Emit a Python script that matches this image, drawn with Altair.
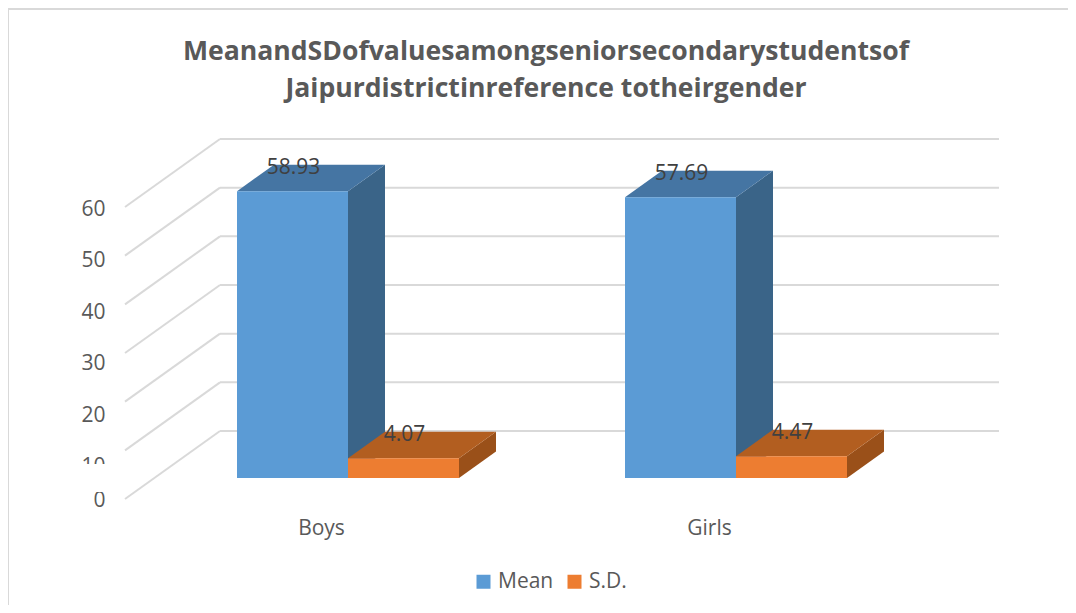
import altair as alt
import pandas as pd

title_lines = ["MeanandSDofvaluesamongseniorsecondarystudentsof", "Jaipurdistrictinreference totheirgender"]
categories = ["Boys", "Girls"]
series = ["Mean", "S.D."]
mean_values = [58.93, 57.69]
sd_values = [4.07, 4.47]
gridline_values = [0, 10, 20, 30, 40, 50, 60]
axis_values = [0, 10, 20, 30, 40, 50, 60]

W, H = 1060, 597
PX = 4.867                 # pixels per value unit
Y0 = 491                   # plot-pixel of value 0 on the front plane of the floor
XDOM = [0, W]
YDOM = [-(H - Y0) / PX, Y0 / PX]
xs = alt.Scale(domain=XDOM, range=[0, W], nice=False, zero=False)
ys = alt.Scale(domain=YDOM, range=[H, 0], nice=False, zero=False)

BASE = (499 - 478) / PX    # floor height of the bars
DEPTH_X, DEPTH_Y = 37, 26.5 / PX
WALL_Y = (499 - 431) / PX
GRID_L, GRID_BACK, GRID_R = 117, 212, 991
BAR_W = 111
CAT_LEFT = [229, 617]
CAT_CENTER = [313, 701]
LABEL_COLOR = "#595959"
FONT = "Open Sans"

front, side, top, labels = [], [], [], []
for c, left, m, s in zip(categories, CAT_LEFT, mean_values, sd_values):
    for k, (name, v) in enumerate(zip(series, (m, s))):
        x0 = left + k * BAR_W
        x1 = x0 + BAR_W
        t = BASE + v
        front.append(dict(series=name, x=x0, x2=x1, y=BASE, y2=t))
        pid = f"{c}-{name}"
        side += [dict(series=name, pid=pid, x=x1, y=BASE, y2=t),
                 dict(series=name, pid=pid, x=x1 + DEPTH_X, y=BASE + DEPTH_Y, y2=t + DEPTH_Y)]
        top += [dict(series=name, pid=pid, x=x0, y=t, y2=t),
                dict(series=name, pid=pid, x=x0 + DEPTH_X, y=t, y2=t + DEPTH_Y),
                dict(series=name, pid=pid, x=x1, y=t, y2=t + DEPTH_Y),
                dict(series=name, pid=pid, x=x1 + DEPTH_X, y=t + DEPTH_Y, y2=t + DEPTH_Y)]
        labels.append(dict(series=name, x=(x0 + x1) / 2 + 1, y=t + 4.8, text=f"{v:.2f}"))

front, side, top, labels = map(pd.DataFrame, (front, side, top, labels))

X = lambda f="x": alt.X(f"{f}:Q", scale=xs, axis=None)
Y = lambda f="y": alt.Y(f"{f}:Q", scale=ys, axis=None, stack=None)

back = pd.DataFrame([dict(v=v, x=GRID_BACK, x2=GRID_R, y=v + WALL_Y) for v in gridline_values])
diag = pd.DataFrame([dict(v=v, x=a, y=b) for v in gridline_values
                     for a, b in ((GRID_L, v), (GRID_BACK, v + WALL_Y))])
GRID = "#d9d9d9"
back_lines = alt.Chart(back).mark_rule(color=GRID, strokeWidth=2).encode(x=X(), x2="x2:Q", y=Y())
diag_lines = alt.Chart(diag).mark_line(color=GRID, strokeWidth=2).encode(x=X(), y=Y(), detail="v:N")

frame_df = pd.DataFrame([dict(x=0, x2=W, y=YDOM[1] - 1 / PX, y2=YDOM[1] - 1 / PX),
                         dict(x=0, x2=0, y=YDOM[0], y2=YDOM[1] - 1 / PX)])
frame = alt.Chart(frame_df).mark_rule(color=GRID, strokeWidth=2).encode(x=X(), x2="x2:Q", y=Y(), y2="y2:Q")

FACE = {"Mean": ("#5b9bd5", "#4575a3", "#3a6488"), "S.D.": ("#ed7d31", "#b25e20", "#9a5019")}
faces = []
for name in series:
    faces.append(alt.Chart(side[side.series == name]).mark_area(color=FACE[name][2], interpolate="linear")
                 .encode(x=X(), y=Y(), y2="y2:Q", detail="pid:N"))
    faces.append(alt.Chart(top[top.series == name]).mark_area(color=FACE[name][1], interpolate="linear")
                 .encode(x=X(), y=Y(), y2="y2:Q", detail="pid:N"))
    faces.append(alt.Chart(front[front.series == name]).mark_rect()
                 .encode(x=X(), x2="x2:Q", y=Y(), y2="y2:Q",
                         color=alt.Color("series:N",
                                         scale=alt.Scale(domain=series, range=[FACE[s][0] for s in series]),
                                         legend=alt.Legend(title=None, orient="none", direction="horizontal",
                                                           legendX=465, legendY=563, symbolType="square",
                                                           symbolSize=196, symbolStrokeWidth=0,
                                                           labelFont=FONT, labelFontSize=21,
                                                           labelColor=LABEL_COLOR, columnPadding=10,
                                                           symbolOpacity=1))))

text_layer = alt.Chart(labels).mark_text(font=FONT, fontSize=21, color="#404040", baseline="middle").encode(
    x=X(), y=Y(), text="text:N")

# White patch that cuts the "10" tick label, as in the source picture
patch = pd.DataFrame([dict(x=50, x2=112, y=(491 - 456) / PX, y2=(491 - 484) / PX)])
patch_layer = alt.Chart(patch).mark_rect(color="white").encode(x=X(), x2="x2:Q", y=Y(), y2="y2:Q")

label_expr = " : ".join(f"datum.value == {p} ? '{c}'" for p, c in zip(CAT_CENTER, categories)) + " : ''"
axis_df = pd.DataFrame({"v": axis_values, "x": [CAT_CENTER[0]] * len(axis_values)})
axis_layer = alt.Chart(axis_df).mark_point(opacity=0).encode(
    x=alt.X("x:Q", scale=xs,
            axis=alt.Axis(values=CAT_CENTER, labelExpr=label_expr, title=None,
                          grid=False, ticks=False, domain=False, labelFont=FONT, labelFontSize=21,
                          labelColor=LABEL_COLOR, labelPadding=0, offset=-(H - 509), labelAlign="center")),
    y=alt.Y("v:Q", scale=alt.Scale(domain=[0, 10, 60], range=[492, 458.5, 201]),
            axis=alt.Axis(orient="left", values=axis_values, title=None, grid=False, ticks=False, domain=False,
                          labelFont=FONT, labelFontSize=21, labelColor=LABEL_COLOR, labelPadding=0,
                          offset=-97)),
)

chart = alt.layer(
    axis_layer, patch_layer, frame, back_lines, diag_lines, *faces, text_layer
).resolve_scale(x="independent", y="independent").properties(
    width=W, height=H, padding=0,
    autosize=alt.AutoSizeParams(type="none"),
    title=alt.TitleParams(title_lines, anchor="middle", frame="group", font=FONT, fontSize=26.6, fontWeight="bold",
                          color=LABEL_COLOR, lineHeight=37, offset=-95, dx=8),
).configure_view(stroke=None)

chart.save("out.html", embed_options={"renderer": "svg", "actions": False})
